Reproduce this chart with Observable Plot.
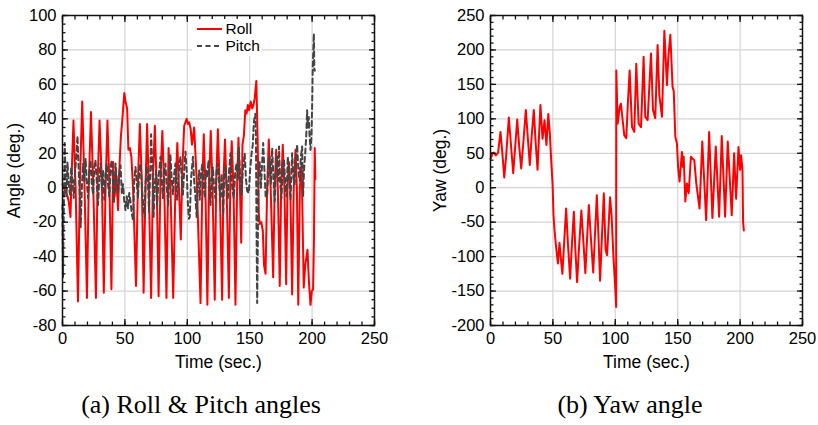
<!DOCTYPE html>
<html><head><meta charset="utf-8">
<script src="https://cdn.jsdelivr.net/npm/d3@7"></script>
<script src="https://cdn.jsdelivr.net/npm/@observablehq/plot@0.6"></script>
<style>
body{margin:0;background:#fff;width:818px;height:425px;overflow:hidden;position:relative;font-family:"Liberation Sans",Arial,sans-serif}
#row{display:flex;position:absolute;left:0;top:0}
.cap{position:absolute;top:390px;font-family:"Liberation Serif","Times New Roman",serif;font-size:26px;color:#000;white-space:nowrap;transform:translateX(-50%)}
#legend{position:absolute;left:192px;top:19px;width:70px;height:37px;background:#fff}
</style></head><body>
<div id="row"></div>
<div id="legend"></div>
<div class="cap" style="left:201px">(a) Roll &amp; Pitch angles</div>
<div class="cap" style="left:630px">(b) Yaw angle</div>
<script>
// ---- data (time in sec., angle in deg.) ----
const roll = [[0,2],[1,0],[2.5,-2],[4,-5],[5,-8],[6.4,-17],[7.2,5],[8.8,39],[10.5,0],[12.4,-66],[14,5],[15.8,50],[17.5,5],[19.6,-64],[21,0],[22.8,44],[24.5,5],[26.8,-64],[28,0],[29.7,39],[31.5,5],[33.1,-61],[34.5,0],[36,39],[37.5,5],[39.2,-59],[40.6,15],[41.8,-5],[43,8],[44.5,-13],[45.5,10],[46.8,30],[48,40],[49.5,55],[50.5,50],[51.8,46],[52.8,22],[54,23],[55.2,18],[56.5,0],[58.9,-57],[60.5,5],[62,37],[63.5,5],[65,-61],[66.5,0],[67.8,37],[69,5],[71,-64],[72.5,5],[74,36],[75.5,0],[77,-63],[78.5,5],[80,33],[81.5,0],[83.3,-64],[85,23],[86.5,0],[88.7,-64],[90.5,0],[92,26],[93.3,0],[94.8,-30],[96,10],[97.5,36],[98.5,38],[99.5,40],[100.5,37],[101.5,38],[102.7,34],[103.8,25],[105.5,35],[107.5,5],[110.6,-67],[112,0],[113.2,31],[114.5,0],[116.1,-68],[117.5,5],[118.8,33],[120.2,0],[122,-65],[123.2,5],[124.5,34],[126,0],[127.9,-65],[129,5],[130.2,28],[131.5,0],[133.3,-64],[134.5,5],[135.6,27],[137,0],[138.6,-68],[140,5],[141,29],[142,5],[143.2,-32],[144.2,25],[145.3,30],[146.5,45],[147.5,43],[148.5,48],[149.5,45],[150.8,50],[152,46],[153,48],[154,52],[155.3,62],[156.3,30],[157.3,-15],[158,-21],[159.3,-20],[160.5,-25],[161.5,-45],[162.7,-50],[164,0],[165.3,28],[166.8,0],[168.8,-52],[170,0],[171.2,22],[172.5,0],[174.1,-57],[175.2,0],[176.5,25],[177.8,0],[179.2,-56],[180.3,0],[181.4,15],[182.5,0],[184,-62],[185.3,0],[186.7,22],[187.8,0],[188.9,-68],[190.2,0],[191.6,14],[193.3,-58],[194.5,-45],[196.3,-36],[197.5,-55],[198.7,-68],[199.8,-60],[200.8,-59],[201.5,-30],[202.1,23],[202.6,5]];

const pitch = [[0,-10],[0.4,-52],[1,-15],[1.8,26],[2.5,5],[3.2,-5],[4,15],[5,2],[6,-4],[7,12],[8,5],[9,-6],[10,8],[11,18],[12,30],[13,10],[14,-8],[14.6,-23],[15.5,0],[16.5,14],[17.5,4],[18.5,17],[19.5,3],[20.5,-6],[21.5,10],[22.5,16],[23.5,2],[24.5,-4],[25.5,12],[26.4,16],[27.5,3],[28.5,-10],[29.5,6],[30.5,14],[31.5,0],[32.5,10],[33.5,-7],[34.5,8],[35.5,14],[36.5,2],[37.5,-5],[38.5,12],[39.5,16],[40.5,2],[41.2,-9],[42.5,14],[43.5,4],[44.5,-3],[45.5,8],[46.5,13],[47.5,-3],[48.5,2],[49.5,-8],[50.5,-13],[51.5,-5],[52.5,-12],[53.5,-3],[54.5,-8],[55.5,-15],[56.6,-19],[57.5,5],[58.5,12],[59.5,3],[60.5,-6],[61.5,10],[62.5,14],[63.5,2],[64.5,-8],[65.7,-17],[66.5,2],[67.5,12],[68.5,4],[69.3,-14],[70.3,10],[71,31],[72,12],[73,-17],[74,2],[75,10],[75.9,-10],[77,6],[78.5,18],[79.5,4],[80.5,-6],[81.5,10],[82.5,14],[83.5,0],[84.7,-10],[85.5,6],[86.5,19],[87.5,5],[88.5,-4],[89.5,8],[90.5,14],[91.9,-7],[93,8],[94.5,18],[95.5,6],[96.5,-4],[97.5,10],[98.5,21],[99.5,10],[100.5,-10],[101.3,-18],[102,-17],[103,5],[104.5,18],[105.5,4],[106.5,-5],[107.5,-17],[108.5,2],[109.5,10],[110,-7],[111,8],[112,14],[113,2],[114,-6],[115,10],[116,6],[117,16],[118,2],[118.6,-10],[119.5,6],[120.5,12],[121.5,0],[122.5,-6],[123.5,10],[124.5,14],[125.5,2],[126.5,-5],[127.5,8],[128.8,-16],[129.5,4],[130.5,12],[131.5,2],[132.5,-6],[133.5,10],[134.6,20],[135.5,4],[136.5,-3],[137.3,-6],[138.5,10],[139.5,14],[140.5,4],[141.3,23],[142.5,4],[143.5,-4],[144.5,10],[146,20],[147,5],[148,-2],[149.3,-3],[150.3,10],[151.5,20],[152.5,25],[153.3,38],[154.5,43],[155,30],[155.4,-18],[156,-67],[156.4,-40],[157,5],[158,15],[159,0],[160,15],[160.8,26],[161.8,10],[162.8,-5],[164,-5],[165,12],[166,18],[167,2],[168,23],[169,6],[170,-8],[171,10],[172,18],[173,4],[173.5,24],[174.5,2],[175.5,-6],[176.5,12],[177.5,16],[178.5,2],[179.5,-5],[180.5,18],[181.5,8],[182.7,-7],[183.5,10],[184,20],[185,6],[186,2],[187,15],[188,25],[189,10],[190,4],[191,18],[192,24],[192.8,-5],[193.5,10],[194.5,20],[195.3,30],[196,45],[196.6,35],[197.3,41],[198,30],[198.7,22],[199.5,30],[200.1,50],[200.5,70],[201,80],[201.4,89.5],[201.8,69],[202.2,68]];

const yaw = [[0,42],[0.8,45],[1.5,50],[2.7,51],[4.3,47],[6.1,51],[8,81],[9.5,50],[11,15],[12.5,45],[14.7,102],[16.5,60],[18.2,21],[19.8,60],[21.4,99],[23,60],[24.6,28],[26.5,70],[28.3,113],[30,70],[31.5,33],[33,75],[34.7,113],[36.2,65],[37.7,26],[39,80],[40,120],[41.7,71],[43.3,98],[44.8,62],[46.3,107],[47.5,80],[48.5,45],[49.7,6],[50.5,-40],[51.2,-60],[52.5,-85],[54,-110],[55.3,-80],[56.5,-105],[57.6,-125],[59,-80],[60.6,-30],[62,-80],[63.8,-132],[65.3,-80],[66.8,-35],[68,-90],[69.4,-137],[71,-85],[72.8,-33],[74.5,-80],[76,-124],[77.5,-70],[78.8,-25],[80.5,-75],[82.3,-123],[83.8,-65],[85.2,-11],[86.3,-60],[87.8,-135],[89.3,-70],[90.8,-8],[92.2,-90],[93.4,-98],[94.5,-60],[95.8,-14],[97,-40],[98.5,-100],[100.1,-150],[100.7,-173],[100.8,170],[101.9,93],[103.5,117],[104.5,122],[105.6,103],[107.2,76],[108.8,72],[110,120],[111.5,170],[113.4,88],[115.2,81],[116.8,180],[118.7,93],[120.6,88],[122.7,190],[124,103],[125.9,98],[128.6,195],[130.2,113],[132,101],[133.9,207],[135.3,134],[137.4,103],[139.3,228],[141.4,149],[142.5,190],[144.1,222],[145.9,146],[146.8,141],[148.1,74],[149.4,64],[150.3,30],[151.5,9],[153.4,52],[154.2,30],[154.8,45],[156.1,-20],[157.4,6],[158.8,-8],[160.6,45],[162,42],[163.3,40],[164.9,6],[167.5,-30],[169.7,67],[172.8,-47],[175.2,81],[177.8,-44],[180.5,60],[183.2,-42],[185.3,75],[188,-42],[190.1,67],[193.3,-40],[195.2,50],[196.8,-16],[198.7,59],[200,26],[200.8,47],[201.9,26],[202.4,-50],[203,-62]];

const timeTicks = [0, 50, 100, 150, 200, 250];
const timeMinor = d3.range(0, 251, 10);
const angleTicks = [-80, -60, -40, -20, 0, 20, 40, 60, 80, 100];
const angleMinor = d3.range(-80, 101, 5);
const yawTicks = [-200, -150, -100, -50, 0, 50, 100, 150, 200, 250];
const yawMinor = d3.range(-200, 251, 10);

const FONT = '"Liberation Sans", Arial, Helvetica, sans-serif';
const toObj = (arr) => arr.map(([t, v]) => ({t, v}));

function panel({yDomain, yTicks, yMinor, yLabel, marginLeft, marginRight, series, labelDx}) {
  const inner = (ticks) => ticks.slice(1, -1);
  const marks = [
    Plot.gridX(inner(timeTicks), {stroke: "#d4d4d4", strokeOpacity: 1, strokeWidth: 1.2}),
    Plot.gridY(inner(yTicks), {stroke: "#d4d4d4", strokeOpacity: 1, strokeWidth: 1.2}),
    ...series.map(s => Plot.line(toObj(s.data), {x: "t", y: "v", stroke: s.stroke, strokeWidth: 2, strokeDasharray: s.dash, strokeLinejoin: "round"})),
    Plot.frame({stroke: "#111", strokeWidth: 1.5}),
  ];
  for (const anchor of ["bottom", "top"]) {
    marks.push(Plot.axisX(timeMinor, {anchor, tickSize: -3.5, tickFormat: () => "", label: null, stroke: "#111", strokeWidth: 1.3}));
    marks.push(Plot.axisX(timeTicks, {anchor, tickSize: -6, tickFormat: () => "", label: null, stroke: "#111", strokeWidth: 1.3}));
  }
  for (const anchor of ["left", "right"]) {
    marks.push(Plot.axisY(yMinor, {anchor, tickSize: -3.5, tickFormat: () => "", label: null, stroke: "#111", strokeWidth: 1.3}));
    marks.push(Plot.axisY(yTicks, {anchor, tickSize: -6, tickFormat: () => "", label: null, stroke: "#111", strokeWidth: 1.3}));
  }
  marks.push(Plot.axisX(timeTicks, {anchor: "bottom", tickSize: 0, tickPadding: 7, tickFormat: d => String(d), label: null, fontSize: 16.5, fill: "#000"}));
  marks.push(Plot.axisY(yTicks, {anchor: "left", tickSize: 0, tickPadding: 6, tickFormat: d => String(d), label: null, fontSize: 16.5, fill: "#000"}));
  marks.push(Plot.text(["Time (sec.)"], {frameAnchor: "bottom", dy: 37, textAnchor: "middle", lineAnchor: "middle", fontSize: 17.5, fill: "#000"}));
  marks.push(Plot.text([yLabel], {frameAnchor: "left", dx: labelDx, rotate: -90, textAnchor: "middle", lineAnchor: "middle", fontSize: 17.5, fill: "#000"}));
  return Plot.plot({
    width: 409, height: 375,
    marginLeft, marginRight, marginTop: 15, marginBottom: 50,
    x: {domain: [0, 250], label: null},
    y: {domain: yDomain, label: null},
    style: {fontFamily: FONT, fontSize: "16px", color: "#000", background: "transparent", overflow: "visible"},
    marks
  });
}

const row = document.getElementById("row");
row.appendChild(panel({
  yDomain: [-80, 100], yTicks: angleTicks, yMinor: angleMinor, yLabel: "Angle (deg.)",
  marginLeft: 62, marginRight: 35, labelDx: -48,
  series: [
    {data: roll, stroke: "#ff0000", dash: null},
    {data: pitch, stroke: "#444444", dash: "5,3.5"}
  ]
}));
row.appendChild(panel({
  yDomain: [-200, 250], yTicks: yawTicks, yMinor: yawMinor, yLabel: "Yaw (deg.)",
  marginLeft: 81, marginRight: 16, labelDx: -50,
  series: [{data: yaw, stroke: "#ff0000", dash: null}]
}));

// legend for the left panel
const leg = d3.select("#legend").append("svg").attr("width", 70).attr("height", 37)
  .style("font-family", FONT).style("font-size", "15.5px");
const legItems = [{name: "Roll", stroke: "#ff0000", dash: null}, {name: "Pitch", stroke: "#444444", dash: "5,3.5"}];
legItems.forEach((d, i) => {
  const y = 10 + i * 17;
  leg.append("line").attr("x1", 5).attr("x2", 30).attr("y1", y).attr("y2", y)
    .attr("stroke", d.stroke).attr("stroke-width", 2).attr("stroke-dasharray", d.dash);
  leg.append("text").attr("x", 33.5).attr("y", y).attr("dy", "0.35em").text(d.name);
});
</script>
</body></html>
